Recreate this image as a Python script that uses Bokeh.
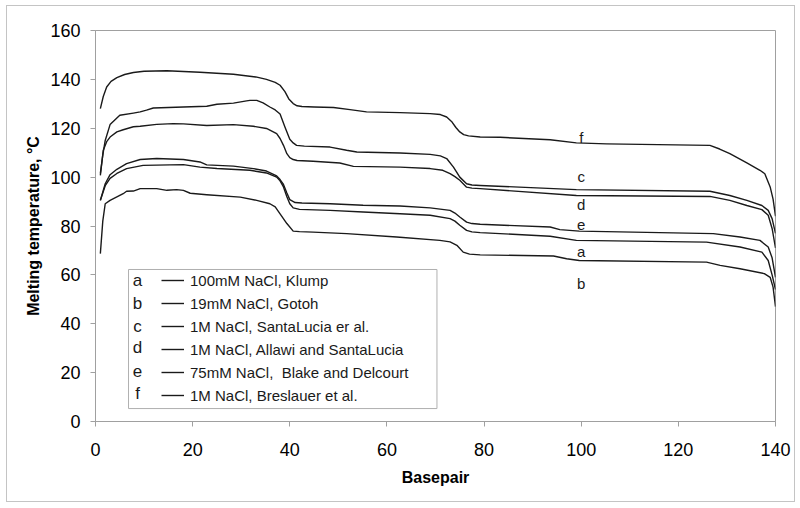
from bokeh.plotting import figure
from bokeh.models import (Range1d, Legend, LegendItem, BoxAnnotation,
                          ColumnDataSource, FixedTicker)
from bokeh.embed import file_html
from bokeh.resources import INLINE
from bokeh.core.properties import value

FONT = "Liberation Sans"

# ---------------- data ----------------
x_ticks = [0, 20, 40, 60, 80, 100, 120, 140]
y_ticks = [0, 20, 40, 60, 80, 100, 120, 140, 160]

a_x = [1, 2, 3, 4.4, 6.4, 9.8, 18.1, 21.5, 25, 31.8, 35.2, 37.3, 38, 38.7, 39.4,
       40, 40.7, 42, 48.3, 55.1, 62.7, 68.9, 73, 74, 75, 76.4, 77.5, 79.2, 93.6,
       99, 125.8, 132.7, 137.2, 138.5, 139.3, 140]
a_y = [90.5, 96.5, 99.5, 101.5, 103.5, 104.8, 105.1, 104.1, 103.5, 102.8, 101.7,
       100, 98.5, 96, 92, 89.1, 87.4, 86.8, 86.4, 85.7, 85, 84.4, 83, 82, 80.3,
       78.2, 77.6, 77.3, 75.8, 74.1, 73.4, 71.4, 69.3, 65.9, 60, 54]

b_x = [1, 1.5, 2, 3, 5.7, 6.4, 7.8, 9.2, 12.6, 14.7, 16.7, 18.1, 19.5, 22.9,
       29.8, 33.2, 35.9, 37, 38, 39.4, 40.7, 42, 44.8, 51.7, 62, 70.9, 73, 74.4,
       75.7, 77, 79.2, 94.3, 97, 99.6, 125.8, 128.6, 132.7, 137.7, 138.9, 139.5,
       140]
b_y = [68.7, 82, 89.1, 90.5, 93.2, 94.2, 94.3, 95.3, 95.3, 94.6, 94.9, 94.6,
       93.4, 92.8, 91.8, 90.5, 89.1, 87.8, 85, 81, 77.9, 77.7, 77.5, 76.9, 75.5,
       74.1, 73.5, 72.1, 69.3, 68.5, 68.2, 67.7, 66.6, 65.9, 65.2, 63.9, 62.5,
       60.5, 59, 55, 47]

c_x = [1, 1.5, 2, 3, 5, 7.8, 9.2, 10.5, 11.9, 18.1, 22.9, 25, 28.4, 31.1, 31.8,
       33.2, 34.5, 35.9, 37, 38, 39, 40, 40.7, 41.4, 43, 48.3, 51.7, 53.8, 62.7,
       68.9, 71, 72.3, 73.7, 75, 76.4, 77.5, 79.2, 99, 126.5, 130.6, 134.1,
       137.2, 138.5, 139.3, 140]
c_y = [101.5, 109, 115, 121.5, 125.3, 126.2, 126.7, 127.4, 128.3, 128.7, 129,
       129.8, 130.3, 131.2, 131.4, 131.4, 130.4, 128.7, 127.5, 125.8, 120.5,
       115.5, 114, 113, 112.7, 112.3, 111, 110.3, 109.9, 109.3, 108.7, 107.6,
       104.1, 100, 97.3, 96.8, 96.6, 94.9, 94.2, 92.5, 90.5, 88.4, 86.4, 83, 77]

d_x = [1, 1.6, 2.3, 3, 4.4, 5.7, 7.8, 9.2, 12.6, 16, 18.1, 22.9, 28.4, 32.5,
       35.2, 37.3, 38, 38.7, 39.4, 40, 40.7, 41.5, 44.8, 50.3, 53.1, 62.7, 68.9,
       71.5, 73, 74, 75, 76.4, 77.5, 79.2, 99, 126.5, 130.6, 134.1, 137.2, 138.5,
       139.3, 140]
d_y = [100.7, 111, 114.5, 116.4, 118.5, 119.4, 120.6, 120.8, 121.6, 121.9, 121.8,
       121.1, 121.5, 120.8, 119.9, 117.8, 115.8, 113, 109.6, 108, 107.2, 106.8,
       106.5, 105.8, 104.4, 104.1, 103.5, 102.8, 101.4, 100.2, 98.7, 95.9, 95.5,
       95.3, 92.5, 92.1, 90.5, 88.4, 86.7, 84.4, 79, 71]

e_x = [1, 2, 3, 4.4, 6.4, 9.2, 12.6, 18.1, 21.5, 22.9, 28.4, 32.5, 35.2, 37.3,
       38, 38.7, 39.4, 40, 41.1, 42.5, 48.3, 55.1, 62.7, 68.9, 73, 74, 75, 76.4,
       77.5, 79.2, 93.6, 95.6, 99.6, 127.2, 132.7, 136.8, 138.5, 139.3, 140]
e_y = [90.5, 97.3, 101, 103.2, 105.5, 107.2, 107.6, 107.2, 106.2, 105, 104.5,
       103.5, 102.5, 100.5, 99, 97, 93.5, 90.8, 89.6, 89.4, 89.1, 88.5, 88.2,
       87.4, 86.4, 85.3, 83.7, 81.6, 81, 80.7, 79.6, 78.5, 77.9, 76.9, 75.5,
       74.1, 71.4, 67, 59]

f_x = [1, 1.6, 2.3, 3.2, 4.4, 6, 7.8, 10, 14.7, 21.5, 28.4, 33, 35.2, 37, 38,
       39, 39.8, 40.7, 41.5, 42.5, 45, 49, 52.4, 55.8, 62.7, 68.9, 71, 72.3,
       73.3, 74.2, 75, 75.8, 76.8, 79.2, 83.3, 93.6, 99, 105.2, 126.5, 128.5,
       130.6, 134.1, 136.8, 137.8, 138.9, 139.5, 140]
f_y = [128, 133, 136.9, 139.2, 140.7, 142, 142.8, 143.3, 143.5, 142.9, 142.1,
       141, 140, 138.8, 137.6, 135, 132, 130.1, 129.2, 128.9, 128.7, 128.5,
       127.6, 126.7, 126.4, 126, 125.6, 124.6, 122.8, 120.3, 118.5, 117.4,
       116.9, 116.4, 116.3, 115.3, 114, 113.6, 113, 111.5, 109.6, 105.8, 102.8,
       101.4, 96, 91, 84]

series_keys = ["a", "b", "c", "d", "e", "f"]
series_names = ["100mM NaCl, Klump",
                "19mM NaCl, Gotoh",
                "1M NaCl, SantaLucia er al.",
                "1M NaCl, Allawi and SantaLucia",
                "75mM NaCl,  Blake and Delcourt",
                "1M NaCl, Breslauer et al."]

# curve labels at x = 100
label_x = [100, 100, 100, 100, 100, 100]
label_y = [69.6, 56.4, 100.4, 89.0, 80.4, 116.4]

# ---------------- figure ----------------
p = figure(width=787, height=495, output_backend="svg", toolbar_location=None,
           x_range=Range1d(0, 140), y_range=Range1d(0, 160),
           min_border_left=88, min_border_right=19,
           min_border_top=24, min_border_bottom=80)
p.styles = {"margin": "6px 0px 0px 7px",
            "outline": "1px solid #c4c4c4", "outline-offset": "0px"}
p.xgrid.visible = False
p.ygrid.visible = False
p.outline_line_color = "#a0a0a0"
p.outline_line_width = 1
p.background_fill_color = "white"
p.border_fill_color = "white"

for ax, ticks in ((p.xaxis[0], x_ticks), (p.yaxis[0], y_ticks)):
    ax.ticker = FixedTicker(ticks=ticks)
    ax.axis_line_color = "#a0a0a0"
    ax.major_tick_line_color = "#a0a0a0"
    ax.major_tick_out = 5
    ax.major_tick_in = 0
    ax.minor_tick_line_color = None
    ax.major_label_text_font = FONT
    ax.major_label_text_font_size = "18px"
    ax.major_label_text_color = "black"
    ax.axis_label_text_font = FONT
    ax.axis_label_text_font_size = "16px"
    ax.axis_label_text_font_style = "bold"
    ax.axis_label_text_color = "black"

p.xaxis.axis_label = "Basepair"
p.yaxis.axis_label = "Melting temperature, °C"
p.xaxis.major_label_standoff = 16
p.yaxis.major_label_standoff = 10
p.xaxis.axis_label_standoff = 10
p.yaxis.axis_label_standoff = 5

xs = {"a": a_x, "b": b_x, "c": c_x, "d": d_x, "e": e_x, "f": f_x}
ys = {"a": a_y, "b": b_y, "c": c_y, "d": d_y, "e": e_y, "f": f_y}

renderers = {}
for k in series_keys:
    renderers[k] = p.line(xs[k], ys[k], line_color="#1a1a1a", line_width=1.4,
                          line_join="round")

# curve letters
src = ColumnDataSource(dict(x=label_x, y=label_y, t=series_keys))
p.text(x="x", y="y", text="t", source=src, text_font=value(FONT),
       text_font_size="15px", text_align="center",
       text_baseline="alphabetic", text_color="#1a1a1a")

# legend frame
box = BoxAnnotation(left=6.8, right=70.3, bottom=5.3, top=62.2,
                    fill_alpha=0, line_color="#b0b0b0", line_width=1,
                    line_alpha=1)
p.add_layout(box)

# legend letters (left of the legend lines)
leg_letter_x = [8.66] * 6
leg_letter_y = [57.7, 48.3, 39.0, 30.2, 20.6, 11.5]
lsrc = ColumnDataSource(dict(x=leg_letter_x, y=leg_letter_y, t=series_keys))
p.text(x="x", y="y", text="t", source=lsrc, text_font=value(FONT),
       text_font_size="17px", text_align="center",
       text_baseline="alphabetic", text_color="#1a1a1a")

legend = Legend(items=[LegendItem(label=n, renderers=[renderers[k]])
                       for k, n in zip(series_keys, series_names)],
                location=(66, 16))
legend.border_line_color = None
legend.background_fill_alpha = 0
legend.padding = 4
legend.margin = 0
legend.spacing = 3
legend.glyph_width = 23
legend.glyph_height = 20
legend.label_height = 20
legend.label_standoff = 6
legend.label_text_font = FONT
legend.label_text_font_size = "15px"
legend.label_text_color = "#1a1a1a"
p.add_layout(legend)

open("out.html", "w").write(file_html(p, INLINE))
